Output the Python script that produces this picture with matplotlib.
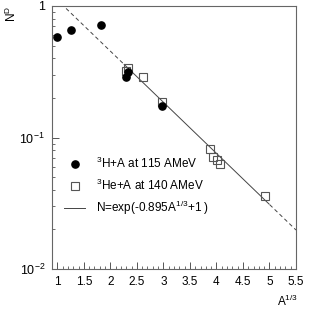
import numpy as np
import matplotlib
matplotlib.use("Agg")
import matplotlib.pyplot as plt
from matplotlib.lines import Line2D
from matplotlib.ticker import FixedLocator, NullFormatter
from matplotlib import font_manager

names = {f.name for f in font_manager.fontManager.ttflist}
fam = 'Liberation Sans Narrow' if 'Liberation Sans Narrow' in names else 'Liberation Sans'
plt.rcParams['font.family'] = [fam, 'DejaVu Sans']
plt.rcParams['mathtext.fontset'] = 'custom'
plt.rcParams['mathtext.rm'] = fam
plt.rcParams['mathtext.it'] = fam
FS = 8.5

# 3H + A at 115 AMeV
h3_x = [1.0, 1.26, 1.82, 2.29, 2.33, 2.97]
h3_y = [0.58, 0.655, 0.717, 0.29, 0.313, 0.174]
# 3He + A at 140 AMeV
he3_x = [2.29, 2.33, 2.62, 2.97, 3.87, 3.94, 4.01, 4.07, 4.92]
he3_y = [0.322, 0.336, 0.287, 0.187, 0.082, 0.0715, 0.0675, 0.063, 0.036]
# fit parameters N = exp(a*A^1/3 + b)
fit_a = -0.895
fit_b = 1.0
solid_range = [2.25, 5.0]

xticks = [1, 1.5, 2, 2.5, 3, 3.5, 4, 4.5, 5, 5.5]
xticklabels = ["1", "1.5", "2", "2.5", "3", "3.5", "4", "4.5", "5", "5.5"]

fig = plt.figure(figsize=(3.10, 3.11), dpi=100)
ax = fig.add_axes([52/310, 1-269/311, (296-52)/310, (269-6)/311])
ax.set_yscale('log')
ax.set_xlim(0.9, 5.5)
ax.set_ylim(0.01, 1)

lc = '#444444'
xs = np.linspace(0.9, 5.5, 400)
f = lambda x: np.exp(fit_a * x + fit_b)
x1 = xs[xs <= solid_range[0]]
x2 = xs[(xs >= solid_range[0]) & (xs <= solid_range[1])]
x3 = xs[xs >= solid_range[1]]
ax.plot(x1, f(x1), color=lc, lw=0.7, ls=(0, (4, 3)))
ax.plot(x2, f(x2), color=lc, lw=0.7)
ax.plot(x3, f(x3), color=lc, lw=0.7, ls=(0, (4, 3)))

ax.plot(he3_x, he3_y, 's', ms=5.8, mfc='none', mec='#555555', mew=0.8)
ax.plot(h3_x, h3_y, 'o', ms=5.2, color='black')

ax.set_xticks(xticks)
ax.set_xticklabels(xticklabels, fontsize=FS)
ax.xaxis.set_minor_locator(FixedLocator(np.arange(0.9, 5.51, 0.1)))
ax.set_yticks([0.01, 0.1, 1])
ax.set_yticklabels([r"$10^{-2}$", r"$10^{-1}$", "1"], fontsize=FS + 0.5)
ax.yaxis.set_minor_formatter(NullFormatter())
ax.tick_params(which='both', direction='in', top=False, right=False, color='#555555')
ax.tick_params(which='major', length=5, width=0.7, pad=5)
ax.tick_params(which='minor', length=2.5, width=0.6)
for s in ax.spines.values():
    s.set_color('#666666')
    s.set_linewidth(0.8)

fig.text(298/310, 2/311, r"A$^{1/3}$", ha='right', va='bottom', fontsize=FS)
fig.text(11/310, 1-14/311, r"N$^{D}$", rotation=90, ha='center', va='center', fontsize=FS)

handles = [
    Line2D([], [], marker='o', ls='none', color='black', ms=5.2),
    Line2D([], [], marker='s', ls='none', mfc='none', mec='#555555', ms=5.8, mew=0.8),
    Line2D([], [], color=lc, lw=0.7),
]
labels = [r"$^{3}$H+A at 115 AMeV", r"$^{3}$He+A at 140 AMeV", r"N=exp(-0.895A$^{1/3}$+1 )"]
ax.legend(handles, labels, loc='upper left', bbox_to_anchor=(0.049, 0.43), frameon=False,
          fontsize=FS, handlelength=1.8, handletextpad=0.9, labelspacing=0.55,
          borderpad=0, borderaxespad=0)

fig.savefig("out.png", dpi=100)
